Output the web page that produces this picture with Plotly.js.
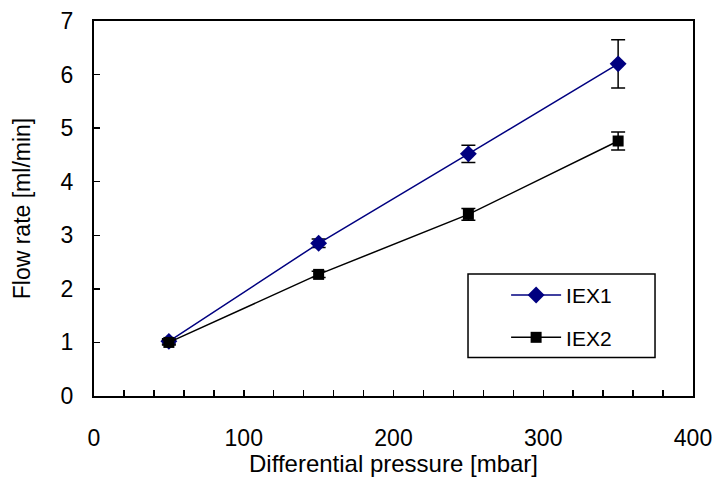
<!DOCTYPE html>
<html>
<head>
<meta charset="utf-8">
<script src="https://cdn.plot.ly/plotly-3.0.1.min.js"></script>
<style>body{margin:0;padding:0;background:#fff;}#chart{width:717px;height:477px;}</style>
</head>
<body>
<div id="chart"></div>
<script>
const pressure = [50, 150, 250, 350];
const iex1 = [1.02, 2.85, 4.52, 6.20];
const iex1Err = [0.05, 0.08, 0.16, 0.45];
const iex2 = [1.00, 2.27, 3.39, 4.76];
const iex2Err = [0.05, 0.06, 0.11, 0.17];
const seriesNames = ['IEX1', 'IEX2'];

const font = 'Liberation Sans, Arial, sans-serif';

const traces = [
  {
    x: pressure, y: iex1, name: seriesNames[0], legendgroup: 'a', type: 'scatter', mode: 'lines+markers',
    line: {color: '#000080', width: 1.5},
    marker: {symbol: 'diamond', size: 13, color: '#000080'},
    error_y: {type: 'data', array: iex1Err, visible: true, color: '#000000', thickness: 1.5, width: 7}
  },
  {
    x: pressure, y: iex2, name: seriesNames[1], legendgroup: 'b', type: 'scatter', mode: 'lines+markers',
    line: {color: '#000000', width: 1.5},
    marker: {symbol: 'square', size: 11, color: '#000000'},
    error_y: {type: 'data', array: iex2Err, visible: true, color: '#000000', thickness: 1.5, width: 7}
  }
];

const layout = {
  width: 717, height: 477,
  margin: {l: 94, r: 24, t: 21, b: 81},
  paper_bgcolor: '#fff', plot_bgcolor: '#fff',
  font: {family: font, color: '#000', size: 23},
  showlegend: true,
  legend: {
    x: 0.688, y: 0.323, xanchor: 'left', yanchor: 'top',
    borderwidth: 0, bgcolor: 'rgba(0,0,0,0)',
    font: {family: font, size: 21, color: '#000'},
    traceorder: 'grouped', tracegroupgap: 12,
    itemwidth: 50
  },
  shapes: [
    {type: 'rect', xref: 'paper', yref: 'paper', x0: 0.6244, x1: 0.9366, y0: 0.1027, y1: 0.3253,
     line: {color: '#000', width: 1.5}, fillcolor: 'rgba(0,0,0,0)', layer: 'below'}
  ],
  xaxis: {
    range: [0, 400], dtick: 100, tick0: 0,
    showgrid: false, zeroline: false,
    showline: true, linecolor: '#000', linewidth: 2, mirror: true,
    ticks: 'inside', ticklen: 6, tickcolor: '#000', tickwidth: 1.5,
    minor: {dtick: 20, ticks: 'inside', ticklen: 6, tickcolor: '#000', tickwidth: 1.5},
    tickfont: {family: font, size: 23},
    ticklabelstandoff: 20,
    title: {text: 'Differential pressure [mbar]', font: {family: font, size: 24}, standoff: 0}
  },
  yaxis: {
    range: [0, 7], dtick: 1, tick0: 0,
    showgrid: false, zeroline: false,
    showline: true, linecolor: '#000', linewidth: 2, mirror: true,
    ticks: 'inside', ticklen: 6, tickcolor: '#000', tickwidth: 1.5,
    tickfont: {family: font, size: 23},
    ticklabelstandoff: 14,
    title: {text: 'Flow rate [ml/min]', font: {family: font, size: 23}, standoff: 24}
  }
};

Plotly.newPlot('chart', traces, layout, {displayModeBar: false, staticPlot: true});
</script>
</body>
</html>
